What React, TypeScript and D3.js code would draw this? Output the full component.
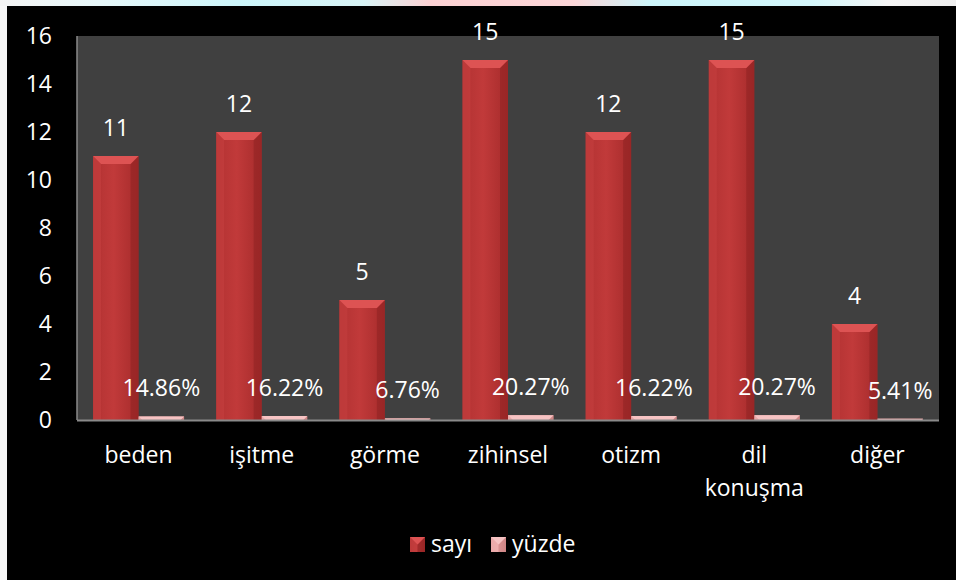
import React from "react";
import * as d3 from "d3";

const categories = [["beden"], ["işitme"], ["görme"], ["zihinsel"], ["otizm"], ["dil", "konuşma"], ["diğer"]];
const seriesNames = ["sayı", "yüzde"];
const sayiValues = [11, 12, 5, 15, 12, 15, 4];
const yuzdeValues = [0.1486, 0.1622, 0.0676, 0.2027, 0.1622, 0.2027, 0.0541];
const yuzdeLabels = ["14.86%", "16.22%", "6.76%", "20.27%", "16.22%", "20.27%", "5.41%"];
const yTicks = [0, 2, 4, 6, 8, 10, 12, 14, 16];

const W = 956;
const H = 580;
const plot = { left: 77, right: 939, top: 36, bottom: 420 };
const FONT = "'Open Sans', 'Noto Sans', sans-serif";

function Bar({ x, y, w, h, kind }: { x: number; y: number; w: number; h: number; kind: number }) {
  if (h <= 0) return null;
  const b = Math.min(8, h, w / 2);
  const grad = kind === 0 ? "url(#gSayi)" : "url(#gYuzde)";
  const top = kind === 0 ? "#dd5353" : "#f6c3c3";
  const left = kind === 0 ? "#c54040" : "#efb2b2";
  const right = kind === 0 ? "#8e2222" : "#c98080";
  return (
    <g>
      <rect x={x} y={y} width={w} height={h} fill={grad} />
      <polygon points={`${x},${y} ${x + b},${y + b} ${x + b},${y + h} ${x},${y + h}`} fill={left} opacity={0.6} />
      <polygon points={`${x + w},${y} ${x + w - b},${y + b} ${x + w - b},${y + h} ${x + w},${y + h}`} fill={right} opacity={0.55} />
      <polygon points={`${x},${y} ${x + w},${y} ${x + w - b},${y + b} ${x + b},${y + b}`} fill={top} />
    </g>
  );
}

export default function App() {
  const keys = categories.map((c) => c.join(" "));
  const x0 = d3.scaleBand<string>().domain(keys).range([plot.left, plot.right]).paddingInner(0).paddingOuter(0);
  const x1 = d3.scaleBand<string>().domain(seriesNames).range([0, x0.bandwidth()]).paddingInner(0).paddingOuter(0.353);
  const y = d3.scaleLinear().domain([0, 16]).range([plot.bottom, plot.top]);

  const series = [sayiValues, yuzdeValues];
  const labels = [sayiValues.map((v) => String(v)), yuzdeLabels];

  return (
    <svg width={W} height={H} style={{ position: "absolute", left: 0, top: 0 }} fontFamily={FONT}>
      <defs>
        <linearGradient id="topStrip" x1="0" x2="1" y1="0" y2="0">
          <stop offset="0" stopColor="#f4f4f4" />
          <stop offset="0.1" stopColor="#e8f8fa" />
          <stop offset="0.25" stopColor="#cdf6fb" />
          <stop offset="0.38" stopColor="#d8f4f6" />
          <stop offset="0.45" stopColor="#fcd2d4" />
          <stop offset="0.6" stopColor="#fcd6d8" />
          <stop offset="0.68" stopColor="#cdf6fb" />
          <stop offset="0.85" stopColor="#d4f7fb" />
          <stop offset="0.93" stopColor="#f6f6f6" />
          <stop offset="1" stopColor="#eeeeee" />
        </linearGradient>
        <linearGradient id="gSayi" x1="0" x2="1" y1="0" y2="0">
          <stop offset="0" stopColor="#b23232" />
          <stop offset="0.45" stopColor="#c13a3a" />
          <stop offset="1" stopColor="#a62b2b" />
        </linearGradient>
        <linearGradient id="gYuzde" x1="0" x2="1" y1="0" y2="0">
          <stop offset="0" stopColor="#e49a9a" />
          <stop offset="0.5" stopColor="#eeaaaa" />
          <stop offset="1" stopColor="#d88d8d" />
        </linearGradient>
      </defs>
      <rect x={0} y={0} width={W} height={H} fill="#f7f7f7" />
      <rect x={0} y={0} width={W} height={6} fill="url(#topStrip)" />
      <rect x={7} y={6} width={W - 7} height={H - 6} fill="#000000" />
      <rect x={plot.left} y={plot.top} width={plot.right - plot.left} height={plot.bottom - plot.top} fill="#404040" />

      {yTicks.map((t) => (
        <text key={t} x={52} y={y(t) + 8} textAnchor="end" fill="#ffffff" fontSize={23}>
          {t}
        </text>
      ))}

      {series.map((vals, si) =>
        vals.map((v, ci) => {
          const bx = (x0(keys[ci]) ?? 0) + (x1(seriesNames[si]) ?? 0);
          const bw = x1.bandwidth();
          const top = y(v);
          return (
            <g key={`${si}-${ci}`}>
              <Bar x={bx} y={top} w={bw} h={y(0) - top} kind={si} />
            </g>
          );
        })
      )}

      <line x1={plot.left} x2={plot.left} y1={plot.top} y2={plot.bottom} stroke="#8a8a8a" strokeWidth={1.5} />
      <line x1={plot.left} x2={plot.right} y1={plot.bottom + 0.5} y2={plot.bottom + 0.5} stroke="#8a8a8a" strokeWidth={2} />

      {series.map((vals, si) =>
        vals.map((v, ci) => {
          const cx = (x0(keys[ci]) ?? 0) + (x1(seriesNames[si]) ?? 0) + x1.bandwidth() / 2;
          return (
            <text key={`l${si}-${ci}`} x={cx} y={y(v) - 20} textAnchor="middle" fill="#ffffff" fontSize={23}>
              {labels[si][ci]}
            </text>
          );
        })
      )}

      {categories.map((c, ci) => {
        const cx = (x0(keys[ci]) ?? 0) + x0.bandwidth() / 2;
        return (
          <text key={`c${ci}`} x={cx} y={463} textAnchor="middle" fill="#ffffff" fontSize={23}>
            {c.map((line, li) => (
              <tspan key={li} x={cx} dy={li === 0 ? 0 : 33}>
                {line}
              </tspan>
            ))}
          </text>
        );
      })}

      {seriesNames.map((s, si) => {
        const lx = si === 0 ? 410 : 491;
        return (
          <g key={`lg${si}`}>
            <Bar x={lx} y={537} w={15} h={15} kind={si} />
            <text x={lx + 21} y={552} fill="#ffffff" fontSize={23}>
              {s}
            </text>
          </g>
        );
      })}
    </svg>
  );
}
